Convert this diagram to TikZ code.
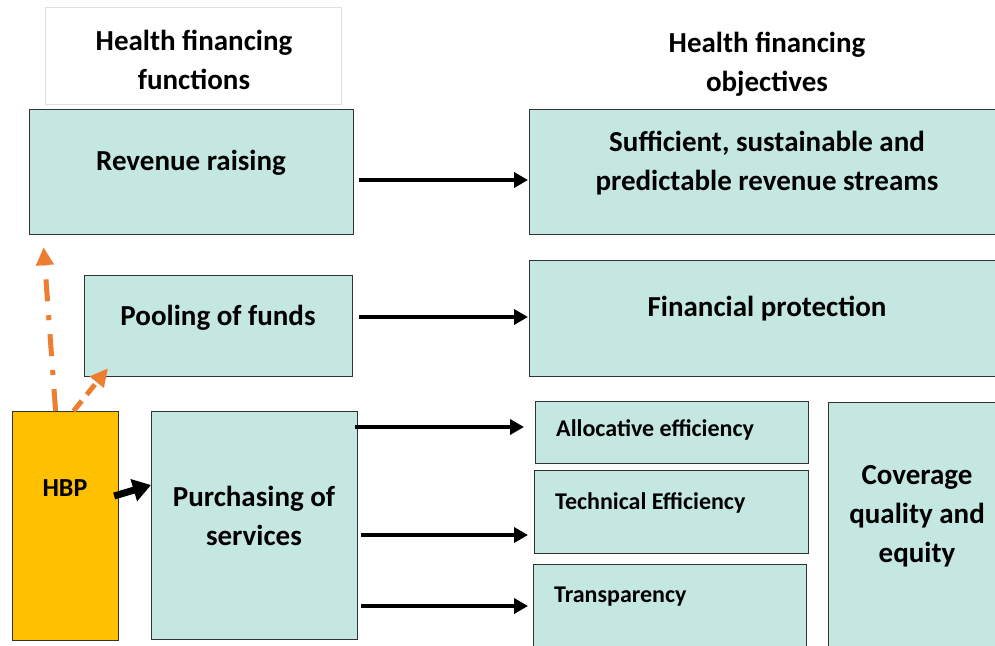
\documentclass[tikz,border=0pt]{standalone}
\usepackage{fontspec}
\setmainfont{Carlito}
\usetikzlibrary{arrows.meta,calc}
\definecolor{teal1}{RGB}{197,231,225}
\definecolor{gold1}{RGB}{255,192,0}
\definecolor{orange1}{RGB}{237,125,49}
\definecolor{edge1}{RGB}{50,50,50}
\tikzset{
  box/.style={draw=edge1, line width=1.2pt, fill=teal1, anchor=north west, inner sep=0pt},
  big/.style={font=\fontsize{29}{39}\selectfont\bfseries, align=center, inner sep=0pt},
  small/.style={font=\fontsize{24}{28}\selectfont\bfseries, inner sep=0pt},
  arr/.style={line width=4.5pt, -{Triangle[length=14pt,width=15pt]}},
  harr/.style={line width=7pt, -{Triangle[length=18pt,width=22pt]}},
  oarr/.style={line width=5pt, orange1, -{Triangle[length=18pt,width=17pt]}}
}
\begin{document}
\begin{tikzpicture}[x=1pt,y=-1pt]
\useasboundingbox (0,0) rectangle (995,645);
\clip (0,0) rectangle (995,645);
% header
\node[draw=black!12, line width=1pt, fill=white, anchor=north west, minimum width=296pt, minimum height=97pt] (hdrL) at (45,7) {};
\node[big] (hdrLt) at (194,60) {Health financing\\functions};
\node[big] (hdrRt) at (767,64) {Health financing\\objectives};
% left column
\node[box, minimum width=324pt, minimum height=125pt] (rev) at (29,109) {};
\node[big] (revt) at (191,163) {Revenue raising};
\node[box, minimum width=268pt, minimum height=101pt] (pool) at (84,275) {};
\node[big] (poolt) at (218,318) {Pooling of funds};
\node[box, fill=gold1, minimum width=106pt, minimum height=229pt] (hbp) at (12,411) {};
\node[small, font=\fontsize{26}{28}\selectfont\bfseries] (hbpt) at (65,488) {HBP};
\node[box, minimum width=206pt, minimum height=228pt] (pur) at (151,411) {};
\node[big] (purt) at (254,516) {Purchasing of\\services};
% right column
\node[box, minimum width=480pt, minimum height=125pt] (suf) at (529,109) {};
\node[big] (suft) at (767,163) {Sufficient, sustainable and\\predictable revenue streams};
\node[box, minimum width=480pt, minimum height=116pt] (fin) at (529,260) {};
\node[big] (fint) at (767,309) {Financial protection};
\node[box, minimum width=273pt, minimum height=62pt] (alloc) at (535,401) {};
\node[small, anchor=west] (alloct) at (556,430) {Allocative efficiency};
\node[box, minimum width=274pt, minimum height=83pt] (tech) at (534,470) {};
\node[small, anchor=west] (techt) at (555,503) {Technical Efficiency};
\node[box, minimum width=273pt, minimum height=100pt] (trans) at (533,564) {};
\node[small, anchor=west] (transt) at (554,597) {Transparency};
\node[box, minimum width=180pt, minimum height=260pt] (cov) at (828,402) {};
\node[big] (covt) at (917,516) {Coverage\\quality and\\equity};
% arrows
\draw[arr] ([xshift=5]rev.east |- 0,180) -- ([xshift=-1]suf.west |- 0,180);
\draw[arr] ([xshift=6]pool.east |- 0,317) -- ([xshift=-1]fin.west |- 0,317);
\draw[arr] ([xshift=-3]pur.east |- 0,427) -- ([xshift=-11]alloc.west |- 0,427);
\draw[arr] ([xshift=3]pur.east |- 0,535) -- ([xshift=-6]tech.west |- 0,535);
\draw[arr] ([xshift=3]pur.east |- 0,606) -- ([xshift=-5]trans.west |- 0,606);
\draw[harr] ([xshift=-5]hbp.east |- 0,496) -- (pur.west |- 0,485);
% orange
\draw[oarr, dash pattern=on 22pt off 14pt on 5pt off 14pt] ([xshift=-10]hbp.north) -- ([shift={(-22,12)}]hbp.north |- rev.south);
\draw[oarr, dash pattern=on 13pt off 8pt] ([xshift=8]hbp.north) -- ([shift={(24,-9)}]pool.south west);
\end{tikzpicture}
\end{document}
